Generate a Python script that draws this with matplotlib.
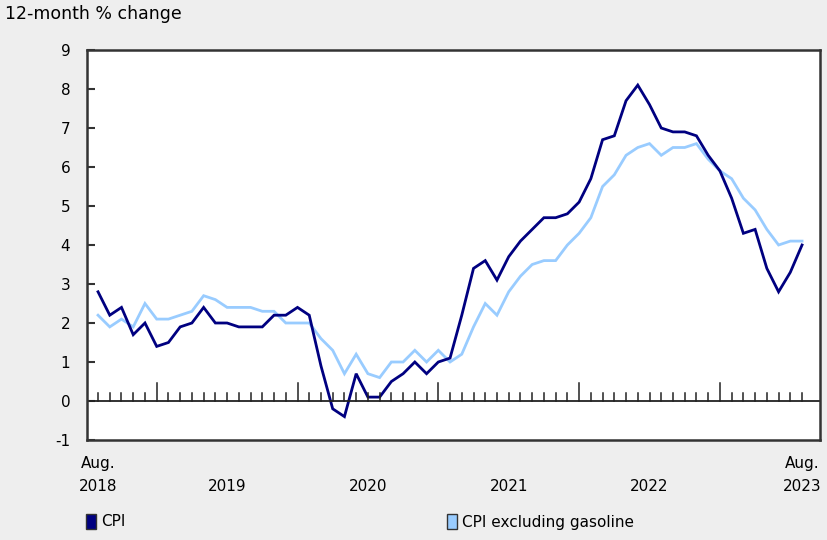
import numpy as np
import matplotlib
matplotlib.use("Agg")
import matplotlib.pyplot as plt

plt.rcParams["axes.unicode_minus"] = False

# monthly, Aug. 2018 to Aug. 2023
cpi = [2.8, 2.2, 2.4, 1.7, 2.0,
       1.4, 1.5, 1.9, 2.0, 2.4, 2.0, 2.0, 1.9, 1.9, 1.9, 2.2, 2.2,
       2.4, 2.2, 0.9, -0.2, -0.4, 0.7, 0.1, 0.1, 0.5, 0.7, 1.0, 0.7,
       1.0, 1.1, 2.2, 3.4, 3.6, 3.1, 3.7, 4.1, 4.4, 4.7, 4.7, 4.8,
       5.1, 5.7, 6.7, 6.8, 7.7, 8.1, 7.6, 7.0, 6.9, 6.9, 6.8, 6.3,
       5.9, 5.2, 4.3, 4.4, 3.4, 2.8, 3.3, 4.0]
cpi_ex_gas = [2.2, 1.9, 2.1, 1.9, 2.5,
              2.1, 2.1, 2.2, 2.3, 2.7, 2.6, 2.4, 2.4, 2.4, 2.3, 2.3, 2.0,
              2.0, 2.0, 1.6, 1.3, 0.7, 1.2, 0.7, 0.6, 1.0, 1.0, 1.3, 1.0,
              1.3, 1.0, 1.2, 1.9, 2.5, 2.2, 2.8, 3.2, 3.5, 3.6, 3.6, 4.0,
              4.3, 4.7, 5.5, 5.8, 6.3, 6.5, 6.6, 6.3, 6.5, 6.5, 6.6, 6.2,
              5.9, 5.7, 5.2, 4.9, 4.4, 4.0, 4.1, 4.1]
year_labels = ["2019", "2020", "2021", "2022"]
year_pos = [11, 23, 35, 47]

dark = "#000080"
light = "#99ccff"
bg = "#eeeeee"

x = np.arange(len(cpi))

fig = plt.figure(figsize=(8.27, 5.4), dpi=100, facecolor=bg)
ax = fig.add_axes([87/827, 1-440/540, (820-87)/827, (440-50)/540])
ax.set_facecolor("white")

ax.plot(x, cpi_ex_gas, color=light, lw=2.0, solid_joinstyle="miter")
ax.plot(x, cpi, color=dark, lw=2.0, solid_joinstyle="miter")

ax.set_xlim(-0.94, 61.53)
ax.set_ylim(-1, 9)
ax.set_yticks(range(-1, 10))
ax.tick_params(axis="y", direction="in", length=6, width=1.5, color="#333333",
               labelsize=11, pad=12)
ax.set_xticks([])
for s in ax.spines.values():
    s.set_color("#333333")
    s.set_linewidth(1.8)

# zero line with month ticks
ax.axhline(0, color="#222222", lw=1.3)
for i in x:
    big = (i - 5) % 12 == 0
    ax.plot([i, i], [0, 0.45 if big else 0.2], color="#222222", lw=1.1)

# x labels
ax.text(0, -1.6, "Aug.", ha="center", va="center", fontsize=11)
ax.text(0, -2.2, "2018", ha="center", va="center", fontsize=11)
for lab, p in zip(year_labels, year_pos):
    ax.text(p, -2.2, lab, ha="center", va="center", fontsize=11)
ax.text(60, -1.6, "Aug.", ha="center", va="center", fontsize=11)
ax.text(60, -2.2, "2023", ha="center", va="center", fontsize=11)

fig.text(5/827, 1-14/540, "12-month % change", ha="left", va="center", fontsize=12.5)

# legend
for xs, col, lab in [(86, dark, "CPI"), (447, light, "CPI excluding gasoline")]:
    fig.patches.append(plt.Rectangle((xs/827, 1-529/540), 10/827, 15/540,
                                     transform=fig.transFigure, facecolor=col,
                                     edgecolor="#333333", lw=1))
    fig.text((xs+15)/827, 1-522/540, lab, ha="left", va="center", fontsize=11)

fig.savefig("out.png", dpi=100, facecolor=bg)
